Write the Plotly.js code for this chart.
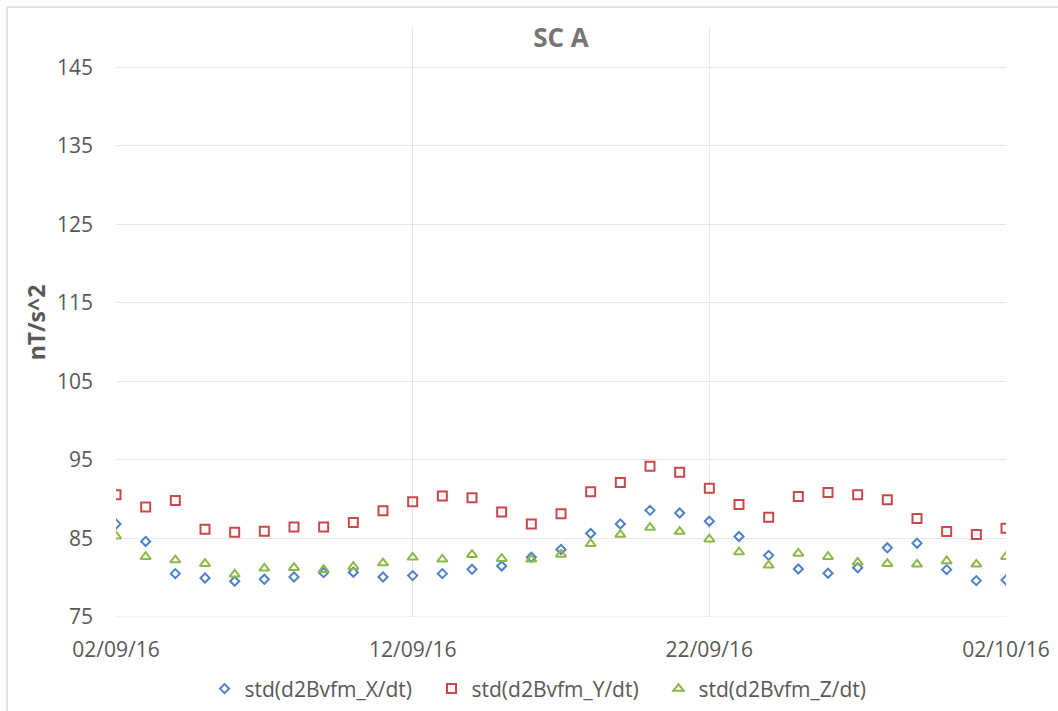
<!DOCTYPE html>
<html>
<head>
<meta charset="utf-8">
<script src="https://cdn.plot.ly/plotly-3.0.1.min.js"></script>
<style>
html,body{margin:0;padding:0;background:#fff;}
#chart{width:1058px;height:711px;}
</style>
</head>
<body>
<div id="chart"></div>
<script>
const dates = [
  '2016-09-02','2016-09-03','2016-09-04','2016-09-05','2016-09-06','2016-09-07','2016-09-08','2016-09-09',
  '2016-09-10','2016-09-11','2016-09-12','2016-09-13','2016-09-14','2016-09-15','2016-09-16','2016-09-17',
  '2016-09-18','2016-09-19','2016-09-20','2016-09-21','2016-09-22','2016-09-23','2016-09-24','2016-09-25',
  '2016-09-26','2016-09-27','2016-09-28','2016-09-29','2016-09-30','2016-10-01','2016-10-02'
];
const stdX = [86.85,84.62,80.52,79.97,79.55,79.8,80.1,80.65,80.7,80.1,80.27,
  80.52,81.07,81.49,82.6,83.6,85.63,86.85,88.58,88.24,87.19,
  85.25,82.85,81.11,80.57,81.28,83.81,84.4,81.03,79.63,79.72];
const stdY = [90.57,89.0,89.85,86.18,85.8,85.92,86.47,86.47,87.02,88.54,89.68,
  90.4,90.19,88.37,86.85,88.16,90.94,92.13,94.19,93.43,91.41,
  89.34,87.7,90.35,90.86,90.57,89.94,87.53,85.88,85.5,86.3];
const stdZ = [85.29,82.67,82.25,81.79,80.44,81.2,81.28,81.03,81.41,81.87,82.6,
  82.34,82.93,82.42,82.34,82.97,84.32,85.5,86.39,85.88,84.91,
  83.27,81.58,83.1,82.67,81.96,81.79,81.71,82.13,81.71,82.67];
const seriesNames = ['std(d2Bvfm_X/dt)','std(d2Bvfm_Y/dt)','std(d2Bvfm_Z/dt)'];
const yTicks = [75,85,95,105,115,125,135,145];

const font = "'Open Sans','Noto Sans',sans-serif";
const traces = [
  {x:dates,y:stdX,name:seriesNames[0],mode:'markers',type:'scatter',
   marker:{symbol:'diamond-open',size:7,color:'#4F81C8',line:{width:2,color:'#4F81C8'}}},
  {x:dates,y:stdY,name:seriesNames[1],mode:'markers',type:'scatter',
   marker:{symbol:'square-open',size:9,color:'#C9484A',line:{width:2,color:'#C9484A'}}},
  {x:dates,y:stdZ,name:seriesNames[2],mode:'markers',type:'scatter',
   marker:{symbol:'triangle-up-open',size:9,color:'#8DB84A',line:{width:2,color:'#8DB84A'}}}
];
const layout = {
  width:1058,height:711,
  margin:{l:116,r:52,t:28,b:94},
  paper_bgcolor:'#ffffff',plot_bgcolor:'#ffffff',
  font:{family:font,color:'#595959',size:21},
  title:{text:'<b>SC A</b>',font:{family:font,size:26,color:'#757575'},x:0.5,xref:'paper',y:0.9466,yref:'container',yanchor:'middle'},
  xaxis:{type:'date',range:['2016-09-02','2016-10-02'],tick0:'2016-09-02',dtick:864000000,
    tickformat:'%d/%m/%y',showgrid:true,gridcolor:'#e6e6e6',gridwidth:1,automargin:false,
    showline:false,zeroline:false,ticks:'',ticklen:0,ticklabelstandoff:18,
    tickfont:{family:font,size:21,color:'#595959'}},
  yaxis:{range:[75,150],tickvals:yTicks,showgrid:true,gridcolor:'#e6e6e6',gridwidth:1,automargin:false,
    zeroline:false,showline:false,ticks:'',ticklabelstandoff:22,
    tickfont:{family:font,size:21,color:'#595959'},
    title:{text:'<b>nT/s^2</b>',font:{family:font,size:23,color:'#595959'},standoff:4}},
  legend:{orientation:'h',xref:'container',yref:'container',x:0.1933,xanchor:'left',y:0.031,yanchor:'middle',
    font:{family:font,size:21,color:'#595959'},itemwidth:30,tracegroupgap:0,
    entrywidth:182,entrywidthmode:'pixels'},
  showlegend:true,
  shapes:[
    {type:'line',xref:'paper',yref:'paper',x0:-0.1225,x1:-0.1225,y0:1.0357,y1:-0.16,line:{color:'#d9d9d9',width:1.5}},
    {type:'line',xref:'paper',yref:'paper',x0:-0.1225,x1:1.06,y0:1.0357,y1:1.0357,line:{color:'#d9d9d9',width:1.5}},
    {type:'line',xref:'paper',yref:'y',x0:0,x1:1,y0:75,y1:75,line:{color:'#e0e0e0',width:1}}
  ]
};
Plotly.newPlot('chart',traces,layout,{displayModeBar:false,staticPlot:true});
</script>
</body>
</html>
